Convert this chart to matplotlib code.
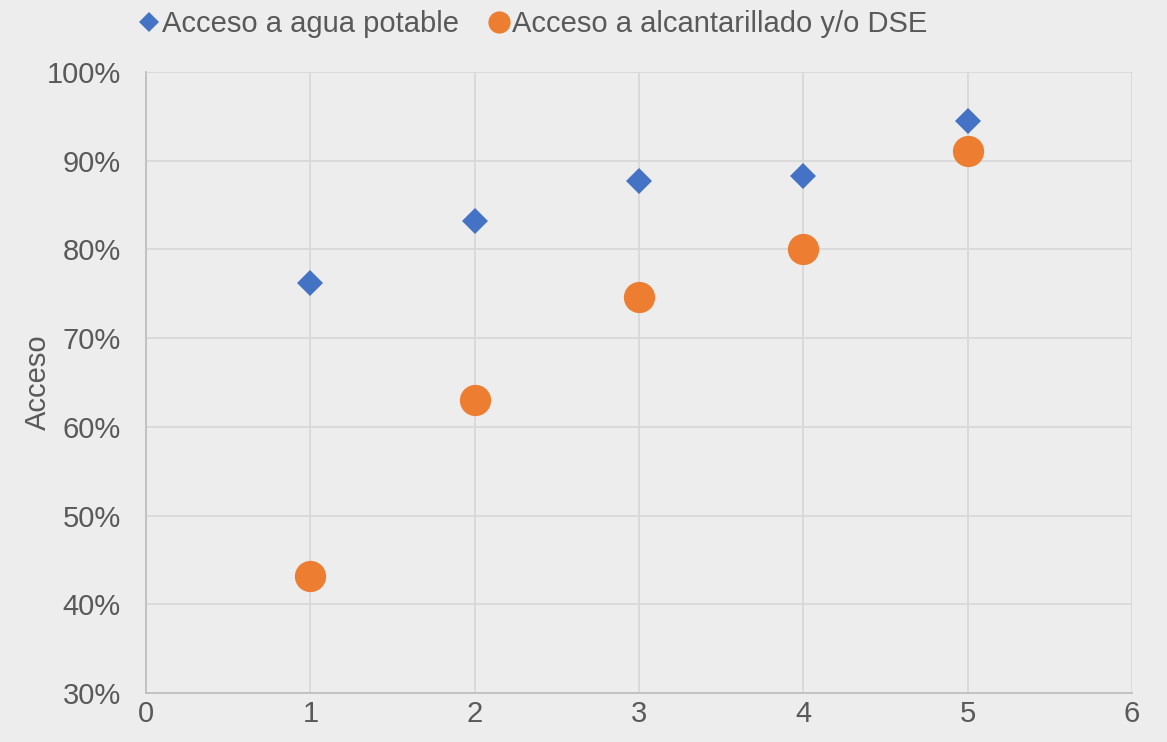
import matplotlib
matplotlib.use("Agg")
import matplotlib.pyplot as plt
from matplotlib.ticker import PercentFormatter
from matplotlib.lines import Line2D

plt.rcParams['font.family'] = ['Liberation Sans', 'DejaVu Sans']

x_vals = [1, 2, 3, 4, 5]
agua = [0.762, 0.832, 0.877, 0.883, 0.945]
alcantarillado = [0.432, 0.630, 0.746, 0.801, 0.911]
label_agua = "Acceso a agua potable"
label_alc = "Acceso a alcantarillado y/o DSE"
y_label = "Acceso"

bg = '#EDEDED'
text_c = '#595959'
blue = '#4472C4'
orange = '#ED7D31'

fig = plt.figure(figsize=(11.67, 7.42), dpi=100, facecolor=bg)
ax = fig.add_axes([0.1251, 0.066, 0.8449, 0.837], facecolor=bg)

ax.plot(x_vals, agua, linestyle='none', marker='D', ms=13.3, color=blue, mew=0, zorder=3)
ax.plot(x_vals, alcantarillado, linestyle='none', marker='o', ms=22.5, color=orange, mew=0, zorder=3)

ax.set_xlim(0, 6)
ax.set_ylim(0.3, 1.0)
ax.set_xticks(range(0, 7))
ax.set_yticks([0.3, 0.4, 0.5, 0.6, 0.7, 0.8, 0.9, 1.0])
ax.yaxis.set_major_formatter(PercentFormatter(1.0, decimals=0))
ax.grid(True, color='#D9D9D9', lw=1.3)
ax.set_axisbelow(True)
for s in ['top', 'right']:
    ax.spines[s].set_visible(False)
for s in ['left', 'bottom']:
    ax.spines[s].set_color('#BFBFBF')
    ax.spines[s].set_linewidth(1.3)
ax.tick_params(length=0, labelsize=21, colors=text_c)
ax.tick_params(axis='y', pad=18)
ax.tick_params(axis='x', pad=5)
ax.set_ylabel(y_label, fontsize=21, color=text_c)
ax.yaxis.set_label_coords(-0.095, 0.5)

handles = [
    Line2D([], [], linestyle='none', marker='D', ms=10, color=blue, mew=0),
    Line2D([], [], linestyle='none', marker='o', ms=16, color=orange, mew=0),
]
fig.legend(handles, [label_agua, label_alc], loc='center left', bbox_to_anchor=(0.094, 0.968),
           ncol=2, frameon=False, fontsize=21, labelcolor=text_c,
           handletextpad=0.0, columnspacing=0.9, handlelength=0.9)

fig.savefig('out.png', dpi=100, facecolor=bg)
